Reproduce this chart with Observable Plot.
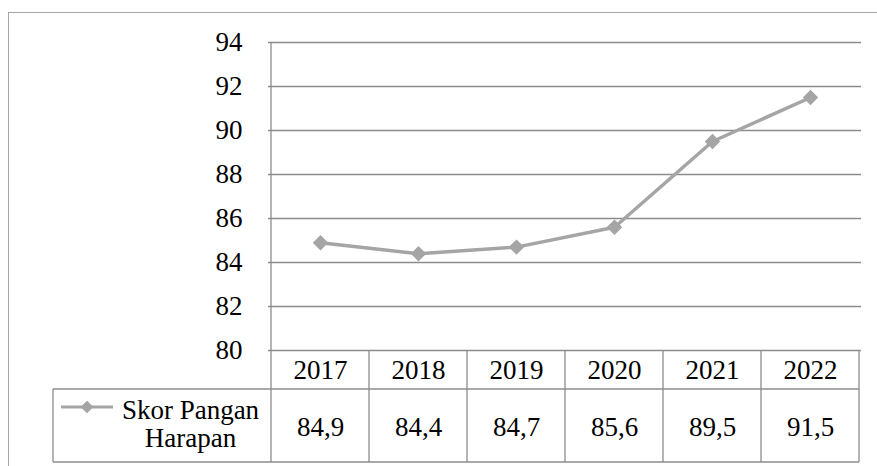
<!DOCTYPE html>
<html><head><meta charset="utf-8">
<script src="https://cdn.jsdelivr.net/npm/d3@7"></script>
<script src="https://cdn.jsdelivr.net/npm/@observablehq/plot@0.6"></script>
<style>
body{margin:0;background:#fff;}
#wrap{position:relative;width:877px;height:466px;overflow:hidden;background:#fff;}
#border{position:absolute;left:8px;top:12px;width:1000px;height:1000px;border:1.5px solid #a6a6a6;box-sizing:border-box;}
#wrap svg{position:absolute;left:0;top:0;}
</style></head><body>
<div id="wrap"><div id="border"></div></div>
<script>
const years = ["2017", "2018", "2019", "2020", "2021", "2022"];
const scores = [84.9, 84.4, 84.7, 85.6, 89.5, 91.5];
const seriesName = ["Skor Pangan", "Harapan"];
const yTicks = [80, 82, 84, 86, 88, 90, 92, 94];

const data = years.map((year, i) => ({year, value: scores[i]}));
const fmt = v => d3.format(".1f")(v).replace(".", ",");
const gridColor = "#8c8c8c";
const lineColor = "#a5a5a5";
const fs = 27;

function tableMark(index, scales, values, dimensions) {
  const {marginLeft, marginTop, marginBottom, marginRight, width, height} = dimensions;
  const x = scales.x;
  const bw = x.bandwidth ? x.bandwidth() : (width - marginLeft - marginRight) / years.length;
  const y0 = height - marginBottom;
  const r1 = y0 + 39, r2 = r1 + 73;
  const left = 53;
  const g = d3.create("svg:g").attr("stroke", gridColor).attr("stroke-width", 1.3).attr("fill", "none");
  const edges = years.map(d => x(d)).concat([x(years[years.length - 1]) + bw]);
  edges.forEach((e, i) => {
    g.append("line").attr("x1", e).attr("x2", e).attr("y1", i === 0 ? marginTop : y0).attr("y2", r2);
  });
  g.append("line").attr("x1", left).attr("x2", left).attr("y1", r1).attr("y2", r2);
  g.append("line").attr("x1", left).attr("x2", edges[edges.length - 1]).attr("y1", r1).attr("y2", r1);
  g.append("line").attr("x1", left).attr("x2", edges[edges.length - 1]).attr("y1", r2).attr("y2", r2);
  // legend key
  const ky = r1 + 18;
  g.append("line").attr("x1", 61).attr("x2", 113).attr("y1", ky).attr("y2", ky)
    .attr("stroke", lineColor).attr("stroke-width", 3);
  g.append("path").attr("d", d3.symbol(d3.symbolDiamond2, 75)()).attr("transform", `translate(87,${ky})`)
    .attr("fill", lineColor).attr("stroke", lineColor);
  return g.node();
}

const chart = Plot.plot({
  width: 877,
  height: 466,
  marginLeft: 268,
  marginRight: 16,
  marginTop: 42,
  marginBottom: 116,
  style: {fontFamily: "'Liberation Serif', serif", fontSize: fs + "px", color: "#000", background: "transparent"},
  x: {type: "band", domain: years, padding: 0, axis: null},
  y: {domain: [80, 94], ticks: yTicks, tickSize: 0, tickPadding: 26, label: null, tickFormat: d => String(d)},
  marks: [
    Plot.ruleY(yTicks, {stroke: gridColor, strokeWidth: 1.3, strokeOpacity: 1}),
    tableMark,
    Plot.line(data, {x: "year", y: "value", stroke: lineColor, strokeWidth: 3.5}),
    Plot.dot(data, {x: "year", y: "value", symbol: "diamond2", r: 6, fill: lineColor, stroke: lineColor}),
    Plot.text(years, {x: d => d, frameAnchor: "bottom", dy: 19.5, lineAnchor: "middle", textAnchor: "middle", fontSize: fs, fill: "#000"}),
    Plot.text(data, {x: "year", text: d => fmt(d.value), frameAnchor: "bottom", dy: 77, lineAnchor: "middle", textAnchor: "middle", fontSize: fs, fill: "#000"}),
    Plot.text([seriesName.join("\n")], {frameAnchor: "bottom-left", dx: -78, dy: 73.5, lineAnchor: "middle", textAnchor: "middle", lineHeight: 1.04, fontSize: fs, fill: "#000"})
  ]
});
document.getElementById("wrap").appendChild(chart);
</script>
</body></html>
